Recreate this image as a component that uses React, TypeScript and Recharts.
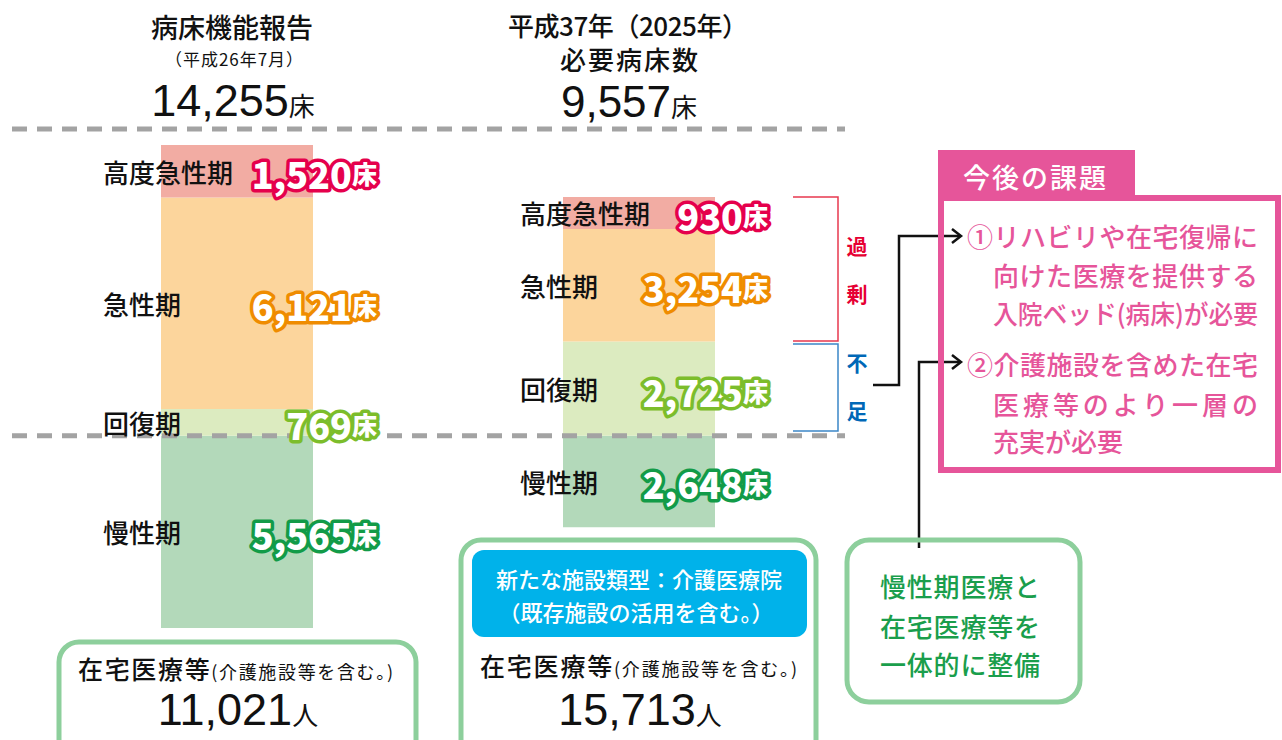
import React from "react";
import { BarChart, Bar, XAxis, YAxis, LabelList, ReferenceLine } from "recharts";

// data
const periods = ["病床機能報告", "必要病床数"];
const stageNames = ["高度急性期", "急性期", "回復期", "慢性期"];
const highAcute = [1520, 930];
const acute = [6121, 3254];
const recovery = [769, 2725];
const chronic = [5565, 2648];
const totalBeds = ["14,255", "9,557"];
const homeCare = ["11,021", "15,713"];

// both bars share the 回復期/慢性期 boundary, so the right one floats on a hidden base
const data = periods.map((p, i) => ({
    period: p,
    base: chronic[0] - chronic[i],
    chronic: chronic[i],
    recovery: recovery[i],
    acute: acute[i],
    highAcute: highAcute[i],
}));
const yMax = highAcute[0] + acute[0] + recovery[0] + chronic[0];

const JP = "'Noto Sans CJK JP', 'Noto Sans', sans-serif";
const NUM = "'Liberation Sans', Arial, sans-serif";
const PINK = "#e6559a";
const GREEN_BOX = "#8dcf9c";

// label offsets relative to each bar, per bar index
const nameOffset = [-58, -43];
const valueOffset = [64, 53];

const makeLabel = (name: string, values: number[], color: string) => (props: any) => {
    const { x, y, width, height, index } = props;
    const cy = Number(y) + Number(height) / 2;
    const v = values[index];
    return (
        <g>
            <text x={Number(x) + nameOffset[index]} y={cy} dominantBaseline="central"
                  fontFamily={JP} fontSize={26} fontWeight={500} fill="#111">{name}</text>
            <text x={Number(x) + Number(width) + valueOffset[index]} y={cy + 2} textAnchor="end"
                  dominantBaseline="central" fontFamily={JP} fontWeight={900} fill="#fff"
                  stroke={color} strokeWidth={7} strokeLinejoin="round" paintOrder="stroke">
                <tspan fontSize={36}>{v.toLocaleString()}</tspan>
                <tspan fontSize={25}>床</tspan>
            </text>
        </g>
    );
};

const DashLine = (props: any) => (
    <line x1={12} x2={845} y1={props.y1} y2={props.y1} stroke="#a3a3a3" strokeWidth={5} strokeDasharray="15 10" />
);

const Arrow = ({ x, y }: { x: number; y: number }) => (
    <polyline points={`${x - 9},${y - 7} ${x},${y} ${x - 9},${y + 7}`} fill="none" stroke="#111" strokeWidth={2.5} />
);

export default function App() {
    return (
        <div style={{ position: "absolute", left: 0, top: 0, width: 1282, height: 740, background: "#fff" }}>
            <div style={{ position: "absolute", left: 0, top: 0 }}>
                <BarChart width={1282} height={740} data={data} barSize={152}
                          margin={{ top: 145, right: 442, bottom: 112, left: 36 }}>
                    <XAxis dataKey="period" hide />
                    <YAxis hide domain={[0, yMax]} />
                    <Bar dataKey="base" stackId="s" fill="#fff" fillOpacity={0} isAnimationActive={false} />
                    <Bar dataKey="chronic" stackId="s" fill="#b3d9ba" isAnimationActive={false}>
                        <LabelList content={makeLabel(stageNames[3], chronic, "#129b48")} />
                    </Bar>
                    <Bar dataKey="recovery" stackId="s" fill="#dcebc0" isAnimationActive={false}>
                        <LabelList content={makeLabel(stageNames[2], recovery, "#7cbd2b")} />
                    </Bar>
                    <Bar dataKey="acute" stackId="s" fill="#fcd59c" isAnimationActive={false}>
                        <LabelList content={makeLabel(stageNames[1], acute, "#ef8c00")} />
                    </Bar>
                    <Bar dataKey="highAcute" stackId="s" fill="#f2aca3" isAnimationActive={false}>
                        <LabelList content={makeLabel(stageNames[0], highAcute, "#e5004c")} />
                    </Bar>
                    <ReferenceLine y={chronic[0]} shape={DashLine} ifOverflow="visible" />
                </BarChart>
            </div>

            <svg width={1282} height={740} style={{ position: "absolute", left: 0, top: 0, pointerEvents: "none" }}>
                {/* headers */}
                <g fontFamily={JP} fill="#111" textAnchor="middle">
                    <text x={232} y={38} fontSize={27} fontWeight={500}>病床機能報告</text>
                    <text x={234} y={66} fontSize={17} textLength={138} lengthAdjust="spacing">（平成26年7月）</text>
                    <text x={233} y={116}>
                        <tspan fontFamily={NUM} fontSize={45}>{totalBeds[0]}</tspan>
                        <tspan fontSize={26}>床</tspan>
                    </text>
                    <text x={628} y={36} fontSize={26} fontWeight={500} textLength={240} lengthAdjust="spacing">平成37年（2025年）</text>
                    <text x={629} y={70} fontSize={26} fontWeight={500} textLength={138} lengthAdjust="spacing">必要病床数</text>
                    <text x={629} y={117}>
                        <tspan fontFamily={NUM} fontSize={44}>{totalBeds[1]}</tspan>
                        <tspan fontSize={26}>床</tspan>
                    </text>
                </g>
                <line x1={12} x2={845} y1={129} y2={129} stroke="#a3a3a3" strokeWidth={5} strokeDasharray="15 10" />

                {/* brackets */}
                <polyline points="793,197 838,197 838,341 793,341" fill="none" stroke="#e8384f" strokeWidth={1.5} />
                <polyline points="793,344 838,344 838,431 793,431" fill="none" stroke="#3b87c8" strokeWidth={1.5} />
                <g fontFamily={JP} fontSize={21} fontWeight={700} textAnchor="middle" dominantBaseline="central">
                    <text x={857} y={245} fill="#e60033">過</text>
                    <text x={857} y={293} fill="#e60033">剰</text>
                    <text x={857} y={362} fill="#0068b7">不</text>
                    <text x={857} y={410} fill="#0068b7">足</text>
                </g>

                {/* connectors */}
                <polyline points="873,385 899,385 899,236 960,236" fill="none" stroke="#111" strokeWidth={2.5} />
                <Arrow x={961} y={236} />
                <polyline points="919,548 919,362 960,362" fill="none" stroke="#111" strokeWidth={2.5} />
                <Arrow x={961} y={362} />

                {/* 今後の課題 */}
                <rect x={941} y={198} width={337} height={272} fill="none" stroke={PINK} strokeWidth={6} />
                <rect x={938} y={150} width={197} height={48} fill={PINK} />
                <text x={963} y={176} fontFamily={JP} fontSize={27} fontWeight={500} fill="#fff"
                      dominantBaseline="central" letterSpacing={2}>今後の課題</text>
                <g fontFamily={JP} fontSize={26} fontWeight={500} fill={PINK} dominantBaseline="central">
                    <text x={967} y={235} textLength={291} lengthAdjust="spacing">①リハビリや在宅復帰に</text>
                    <text x={993} y={274} textLength={265} lengthAdjust="spacing">向けた医療を提供する</text>
                    <text x={993} y={312} textLength={265} lengthAdjust="spacingAndGlyphs">入院ベッド(病床)が必要</text>
                    <text x={967} y={363} textLength={291} lengthAdjust="spacing">②介護施設を含めた在宅</text>
                    <text x={993} y={403} textLength={265} lengthAdjust="spacing">医療等のより一層の</text>
                    <text x={993} y={440}>充実が必要</text>
                </g>

                {/* bottom boxes */}
                <rect x={59} y={642} width={357} height={120} rx={20} fill="none" stroke={GREEN_BOX} strokeWidth={5} />
                <g fontFamily={JP} fill="#111">
                    <text x={78} y={679} textLength={315} lengthAdjust="spacing">
                        <tspan fontSize={25} fontWeight={500}>在宅医療等</tspan>
                        <tspan fontSize={18}>(介護施設等を含む。)</tspan>
                    </text>
                    <text x={238} y={725} textAnchor="middle">
                        <tspan fontFamily={NUM} fontSize={45}>{homeCare[0]}</tspan>
                        <tspan fontSize={26}>人</tspan>
                    </text>
                </g>

                <rect x={461} y={540} width={355} height={220} rx={20} fill="none" stroke={GREEN_BOX} strokeWidth={5} />
                <rect x={472} y={550} width={335} height={87} rx={12} fill="#00b2ea" />
                <g fontFamily={JP} fill="#fff" textAnchor="middle" fontSize={22} fontWeight={500} dominantBaseline="central">
                    <text x={639} y={578}>新たな施設類型：介護医療院</text>
                    <text x={636} y={611}>（既存施設の活用を含む。）</text>
                </g>
                <g fontFamily={JP} fill="#111">
                    <text x={480} y={676} textLength={317} lengthAdjust="spacing">
                        <tspan fontSize={25} fontWeight={500}>在宅医療等</tspan>
                        <tspan fontSize={18}>(介護施設等を含む。)</tspan>
                    </text>
                    <text x={640} y={725} textAnchor="middle">
                        <tspan fontFamily={NUM} fontSize={45}>{homeCare[1]}</tspan>
                        <tspan fontSize={26}>人</tspan>
                    </text>
                </g>

                <rect x={847} y={540} width={233} height={162} rx={22} fill="none" stroke={GREEN_BOX} strokeWidth={5} />
                <g fontFamily={JP} fill="#1a9e4c" fontSize={26} fontWeight={500} dominantBaseline="central">
                    <text x={880} y={585} textLength={160} lengthAdjust="spacing">慢性期医療と</text>
                    <text x={880} y={625} textLength={160} lengthAdjust="spacing">在宅医療等を</text>
                    <text x={880} y={663} textLength={160} lengthAdjust="spacing">一体的に整備</text>
                </g>
            </svg>
        </div>
    );
}
